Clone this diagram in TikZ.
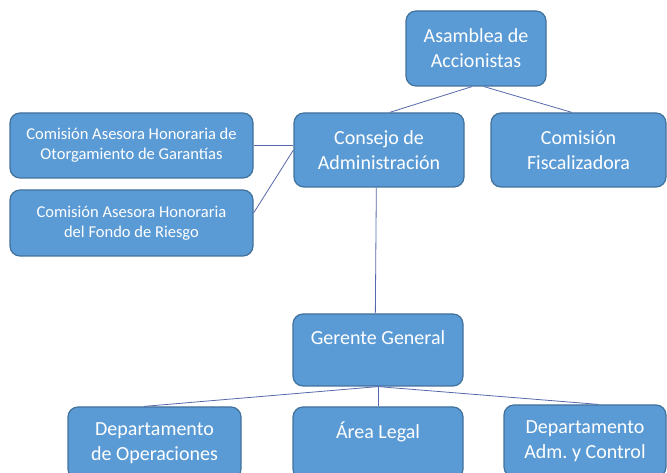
\documentclass[tikz,border=0pt]{standalone}
\usepackage{fontspec}
\setmainfont{Carlito}
\usepackage{xcolor}
\definecolor{boxfill}{RGB}{91,155,213}
\definecolor{boxline}{RGB}{65,113,156}
\definecolor{linkline}{RGB}{86,104,170}

\begin{document}
\begin{tikzpicture}[x=0.75pt,y=0.75pt,yscale=-1,xscale=1,
  box/.style={draw=boxline, line width=0.9pt, fill=boxfill, rounded corners=7.5pt,
    text=white, align=center, inner sep=2pt},
  bigbox/.style={box, font=\fontsize{15}{18.75}\selectfont},
  smallbox/.style={box, font=\fontsize{12.4}{15}\selectfont},
  link/.style={draw=linkline, line width=0.6pt}]
%set diagram size 667 x 473
\useasboundingbox (0,0) rectangle (667,473);
\clip (0,0) rectangle (667,473);

% Top level
\node [bigbox, minimum width=105pt, minimum height=56.25pt] (asamblea) at (476,48.5) {Asamblea de\\Accionistas};
% Second level
\node [bigbox, minimum width=127.5pt, minimum height=55.5pt] (consejo) at (379,150) {Consejo de\\Administración};
\node [bigbox, minimum width=131.25pt, minimum height=55.5pt] (fiscal) at (578.5,150) {Comisión\\Fiscalizadora};
% Advisory committees
\node [smallbox, minimum width=182.25pt, minimum height=48.75pt] (garantias) at (131.5,145.5) {Comisión Asesora Honoraria de\\Otorgamiento de Garantías};
\node [smallbox, minimum width=182.25pt, minimum height=49.5pt] (fondo) at (131.5,223) {Comisión Asesora Honoraria\\del Fondo de Riesgo};
% Management
\node [bigbox, minimum width=127.5pt, minimum height=54pt] (gerente) at (378,350) {Gerente General\\\mbox{}};
% Departments
\node [bigbox, minimum width=129.75pt, minimum height=54pt] (operaciones) at (154.5,443) {Departamento\\de Operaciones};
\node [bigbox, minimum width=127.5pt, minimum height=54pt] (legal) at (378,443) {Área Legal\\\mbox{}};
\node [bigbox, minimum width=121.5pt, minimum height=54pt] (adm) at (585,441) {Departamento\\Adm.\ y Control};

% Connectors
\draw [link] ([xshift=-3pt]asamblea.south) -- ([xshift=8pt]consejo.north);
\draw [link] ([xshift=6pt]asamblea.south) -- ([xshift=-5pt]fiscal.north);
\draw [link] (garantias.east) -- (garantias.east -| consejo.west);
\draw [link] ([yshift=-7.5pt]fondo.east) -- (consejo.west);
\draw [link] ([xshift=-2pt]consejo.south) -- ([xshift=-2pt]gerente.north);
\draw [link] (gerente.south) -- ([xshift=-8pt]operaciones.north);
\draw [link] (gerente.south) -- (legal.north);
\draw [link] (gerente.south) -- ([xshift=10pt]adm.north);

\end{tikzpicture}
\end{document}
